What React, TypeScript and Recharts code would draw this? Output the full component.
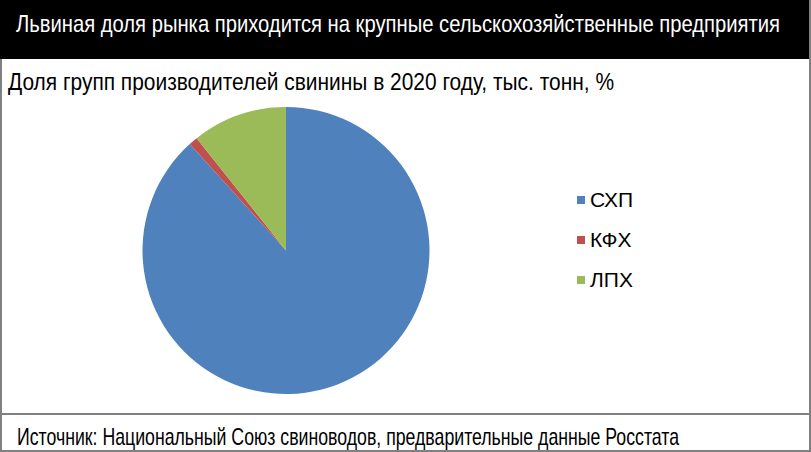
import React from "react";
import { PieChart, Pie, Cell, Legend } from "recharts";

const categories = ["СХП", "КФХ", "ЛПХ"];
const shares = [88.3, 1.0, 10.7];
const colors = ["#4F81BD", "#C0504D", "#9BBB59"];

const titleText = "Львиная доля рынка приходится на крупные сельскохозяйственные предприятия";
const subtitleText = "Доля групп производителей свинины в 2020 году, тыс. тонн, %";
const sourceText = "Источник: Национальный Союз свиноводов, предварительные данные Росстата";

const data = categories.map((name, i) => ({ name, value: shares[i] }));

const narrow = "'Liberation Sans Narrow', 'Liberation Sans', Roboto, sans-serif";

const LegendContent = () => (
  <svg width={120} height={130} style={{ display: "block" }}>
    {categories.map((c, i) => (
      <g key={c}>
        <rect x={0} y={8 + i * 40} width={8} height={8} fill={colors[i]} />
        <text
          x={13}
          y={19 + i * 40}
          fontFamily="'Liberation Sans', Arial, sans-serif"
          fontSize={21}
          fill="#000"
        >
          {c}
        </text>
      </g>
    ))}
  </svg>
);

type CondProps = { x: number; y: number; width: number; size: number; fill: string; text: string };
const SX = 0.8;
const Cond = ({ x, y, width, size, fill, text }: CondProps) => (
  <g transform={`translate(${x},${y}) scale(${SX},1)`}>
    <text
      x={0}
      y={0}
      fontFamily={narrow}
      fontSize={size}
      fill={fill}
      textLength={width / SX}
      lengthAdjust="spacingAndGlyphs"
    >
      {text}
    </text>
  </g>
);

export default function App() {
  return (
    <div
      style={{
        position: "absolute",
        left: 0,
        top: 0,
        width: 811,
        height: 452,
        background: "#fff",
        overflow: "hidden",
      }}
    >
      <div
        style={{
          position: "absolute",
          left: 0,
          top: 0,
          width: 811,
          height: 452,
          boxSizing: "border-box",
          border: "2px solid #808080",
        }}
      />
      <div
        style={{
          position: "absolute",
          left: 0,
          top: 0,
          width: 809,
          height: 59,
          background: "#000",
        }}
      />
      <div
        style={{
          position: "absolute",
          left: 0,
          top: 413,
          width: 811,
          height: 2,
          background: "#808080",
        }}
      />
      <div style={{ position: "absolute", left: 0, top: 0 }}>
        <PieChart width={811} height={452} margin={{ top: 0, right: 0, bottom: 0, left: 0 }}>
          <Pie
            data={data}
            dataKey="value"
            nameKey="name"
            cx={286}
            cy={250.5}
            outerRadius={143.5}
            startAngle={90}
            endAngle={-270}
            stroke="none"
            isAnimationActive={false}
          >
            {data.map((d, i) => (
              <Cell key={d.name} fill={colors[i]} />
            ))}
          </Pie>
          <Legend
            layout="vertical"
            content={<LegendContent />}
            wrapperStyle={{ position: "absolute", left: 577, top: 188, width: 120, height: 130 }}
          />
        </PieChart>
      </div>
      <svg
        width={811}
        height={452}
        style={{ position: "absolute", left: 0, top: 0, pointerEvents: "none" }}
      >
        <Cond x={16} y={32} width={764} size={24} fill="#fff" text={titleText} />
        <Cond x={8} y={90} width={606} size={24} fill="#000" text={subtitleText} />
        <Cond x={17} y={445} width={662} size={23} fill="#000" text={sourceText} />
      </svg>
    </div>
  );
}
